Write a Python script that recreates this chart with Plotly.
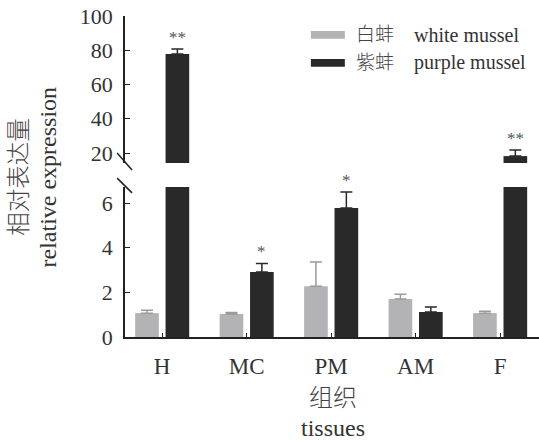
import plotly.graph_objects as go

categories = ["H", "MC", "PM", "AM", "F"]
white_vals = [1.07, 1.03, 2.28, 1.70, 1.07]
white_err = [0.13, 0.07, 1.08, 0.22, 0.08]
purple_vals = [77.8, 2.91, 5.78, 1.12, 18.2]
purple_err = [2.9, 0.39, 0.72, 0.22, 3.5]
sig_marks = ["**", "*", "*", "", "**"]
lower_ticks = [0, 2, 4, 6]
upper_ticks = [20, 40, 60, 80, 100]

GREY = "#b3b3b5"
BLACK = "#2a292a"
FONT = "Liberation Serif, Noto Sans CJK SC, serif"
xs = list(range(len(categories)))

fig = go.Figure()
for yax, xax in [("y", "x"), ("y2", "x2")]:
    fig.add_trace(go.Bar(x=xs, y=white_vals, width=0.28, offset=-0.32,
                         marker=dict(color=GREY, line=dict(width=0)),
                         error_y=dict(type="data", array=white_err, symmetric=False,
                                      arrayminus=[0]*5, color="#9a9a9c", thickness=1.5, width=6),
                         xaxis=xax, yaxis=yax, showlegend=False, hoverinfo="skip"))
    fig.add_trace(go.Bar(x=xs, y=purple_vals, width=0.28, offset=0.04,
                         marker=dict(color=BLACK, line=dict(width=0)),
                         error_y=dict(type="data", array=purple_err, symmetric=False,
                                      arrayminus=[0]*5, color="#2a292a", thickness=1.5, width=6),
                         xaxis=xax, yaxis=yax, showlegend=False, hoverinfo="skip"))

annotations = []
for i, s in enumerate(sig_marks):
    if not s:
        continue
    top = purple_vals[i] + purple_err[i]
    yref = "y2" if top > 7 else "y"
    annotations.append(dict(x=i + 0.18, y=top, xref="x", yref=yref, text=s,
                            showarrow=False, yanchor="bottom", yshift=0,
                            font=dict(family=FONT, size=17, color="#555")))

def txt(x, y, text, size=21, angle=0, xanchor="center", weight=None, color="#333"):
    f = dict(family=FONT, size=size, color=color)
    if weight:
        f["weight"] = weight
    return dict(x=x, y=y, xref="paper", yref="paper", text=text, textangle=angle,
                xanchor=xanchor, yanchor="middle", showarrow=False, font=f)

annotations += [
    txt(-0.258, 0.5, "相对表达量", size=23.5, angle=-90, weight=300, color="#444"),
    txt(-0.186, 0.5, "relative expression", size=24, angle=-90),
    txt(0.502, -0.19, "组织", size=24, weight=300, color="#444"),
    txt(0.502, -0.283, "tissues", size=24),
]
legend_items = [("白蚌", "white mussel", GREY, 0.941), ("紫蚌", "purple mussel", BLACK, 0.854)]
shapes = []
for zh, en, col, yc in legend_items:
    shapes.append(dict(type="rect", xref="paper", yref="paper", x0=0.449, x1=0.531,
                       y0=yc - 0.012, y1=yc + 0.012, fillcolor=col, line=dict(width=0)))
    annotations.append(txt(0.553, yc, zh, size=19, xanchor="left", weight=300, color="#444"))
    annotations.append(txt(0.693, yc, en, size=20, xanchor="left"))
for y0, y1 in [(0.573, 0.520), (0.495, 0.449)]:
    shapes.append(dict(type="line", xref="paper", yref="paper", x0=-0.019, x1=0.017,
                       y0=y0, y1=y1, line=dict(color="#222", width=1.5)))

axis_common = dict(showline=True, linecolor="#222", linewidth=1.5, ticks="inside",
                   ticklen=5, tickwidth=1.2, tickcolor="#222", showgrid=False, zeroline=False,
                   tickfont=dict(family=FONT, size=22, color="#333"))

fig.update_layout(
    width=539, height=441, margin=dict(l=125, r=0, t=16, b=104),
    paper_bgcolor="white", plot_bgcolor="white", barmode="overlay",
    xaxis=dict(range=[-0.44, 4.46], tickvals=xs, ticktext=categories, showline=True,
               linecolor="#222", linewidth=1.5, ticks="inside", ticklen=4, tickcolor="#222",
               showgrid=False, zeroline=False, ticklabelstandoff=8,
               tickfont=dict(family=FONT, size=23, color="#333"), anchor="y"),
    xaxis2=dict(range=[-0.44, 4.46], visible=False, anchor="y2", matches="x"),
    yaxis=dict(domain=[0, 0.467], range=[0, 6.72], tickvals=lower_ticks,
               ticklabelstandoff=6, **axis_common),
    yaxis2=dict(domain=[0.542, 1], range=[14.16, 100], tickvals=upper_ticks,
                ticklabelstandoff=6, anchor="x2", **axis_common),
    annotations=annotations, shapes=shapes,
)
fig.write_html("out.html", post_script="document.body.style.margin='0';",
               config={"displayModeBar": False})
